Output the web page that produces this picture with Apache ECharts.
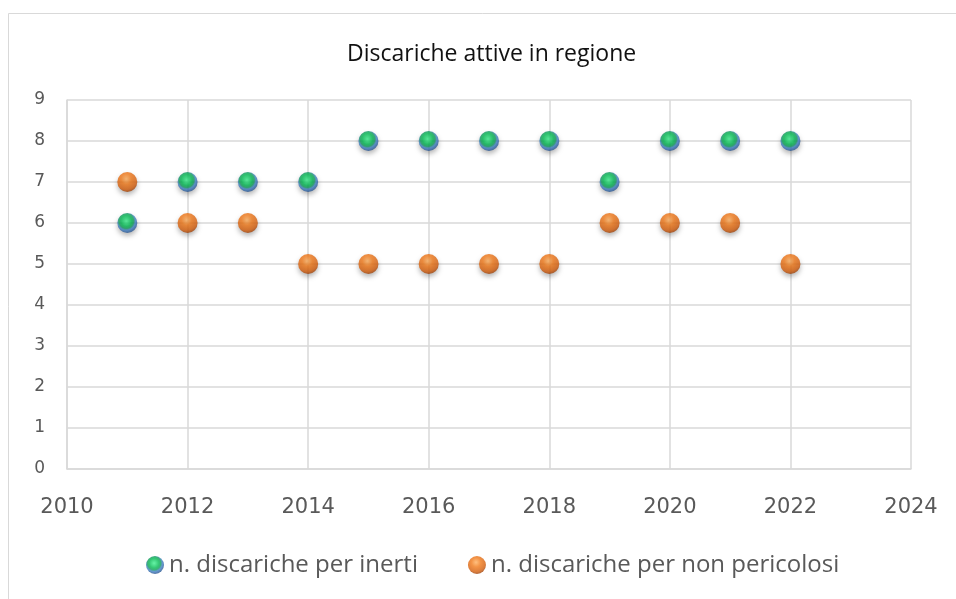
<!DOCTYPE html>
<html>
<head>
<meta charset="utf-8">
<script src="https://cdn.jsdelivr.net/npm/echarts@6/dist/echarts.min.js"></script>
<style>
  html, body { margin: 0; padding: 0; background: #fff; }
  #chart { width: 956px; height: 599px; }
</style>
</head>
<body>
<div id="chart"></div>
<script>
var years = [2011, 2012, 2013, 2014, 2015, 2016, 2017, 2018, 2019, 2020, 2021, 2022];
var inerti = [6, 7, 7, 7, 8, 8, 8, 8, 7, 8, 8, 8];
var nonPericolosi = [7, 6, 6, 5, 5, 5, 5, 5, 6, 6, 6, 5];
var seriesNames = ["n. discariche per inerti", "n. discariche per non pericolosi"];

function pairs(xs, ys) {
  return xs.map(function (x, i) { return [x, ys[i]]; });
}

var greenBall = new echarts.graphic.RadialGradient(0.45, 0.4, 0.6, [
  { offset: 0, color: "#40f090" },
  { offset: 0.45, color: "#00b850" },
  { offset: 0.62, color: "#0f9a5a" },
  { offset: 0.76, color: "#3f7fc4" },
  { offset: 1, color: "#2a5590" }
]);
var orangeBall = new echarts.graphic.RadialGradient(0.45, 0.35, 0.65, [
  { offset: 0, color: "#ffb060" },
  { offset: 0.4, color: "#f07818" },
  { offset: 0.8, color: "#d45e0c" },
  { offset: 1, color: "#9e420a" }
]);

var chart = echarts.init(document.getElementById("chart"));
chart.setOption({
  backgroundColor: "#fff",
  animation: false,
  graphic: [{
    type: "rect",
    shape: { x: 8.5, y: 13.5, width: 960, height: 600 },
    style: { fill: "none", stroke: "#d9d9d9", lineWidth: 1 },
    silent: true,
    z: -1
  }],
  title: {
    text: "Discariche attive in regione",
    left: 342,
    top: 38,
    textStyle: { fontFamily: "Open Sans", fontSize: 23, fontWeight: "normal", color: "#111" }
  },
  legend: {
    bottom: 17,
    left: 141,
    itemGap: 50,
    itemWidth: 18,
    itemHeight: 18,
    textStyle: { fontFamily: "Open Sans", fontSize: 24, color: "#595959" },
    data: [
      { name: seriesNames[0], icon: "circle", itemStyle: { color: greenBall } },
      { name: seriesNames[1], icon: "circle", itemStyle: { color: orangeBall } }
    ]
  },
  grid: { left: 67, right: 45, top: 100, bottom: 130 },
  xAxis: {
    type: "value",
    min: 2010,
    max: 2024,
    interval: 2,
    axisLine: { lineStyle: { color: "#d9d9d9", width: 1.5 } },
    axisTick: { show: false },
    splitLine: { show: true, lineStyle: { color: "#d9d9d9", width: 1.5 } },
    axisLabel: {
      margin: 28,
      fontFamily: "DejaVu Sans",
      fontSize: 21,
      color: "#595959",
      formatter: function (v) { return String(v); }
    }
  },
  yAxis: {
    type: "value",
    min: 0,
    max: 9,
    interval: 1,
    axisLine: { show: true, lineStyle: { color: "#d9d9d9", width: 1.5 } },
    axisTick: { show: false },
    splitLine: { show: true, lineStyle: { color: "#d9d9d9", width: 1.5 } },
    axisLabel: { margin: 22, fontFamily: "DejaVu Sans", fontSize: 17, color: "#595959" }
  },
  series: [
    {
      name: seriesNames[0],
      type: "scatter",
      symbolSize: 20,
      itemStyle: {
        color: greenBall,
        shadowColor: "rgba(0,0,0,0.35)",
        shadowBlur: 5,
        shadowOffsetY: 3
      },
      data: pairs(years, inerti)
    },
    {
      name: seriesNames[1],
      type: "scatter",
      symbolSize: 20,
      itemStyle: {
        color: orangeBall,
        shadowColor: "rgba(0,0,0,0.35)",
        shadowBlur: 5,
        shadowOffsetY: 3
      },
      data: pairs(years, nonPericolosi)
    }
  ]
});
</script>
</body>
</html>
